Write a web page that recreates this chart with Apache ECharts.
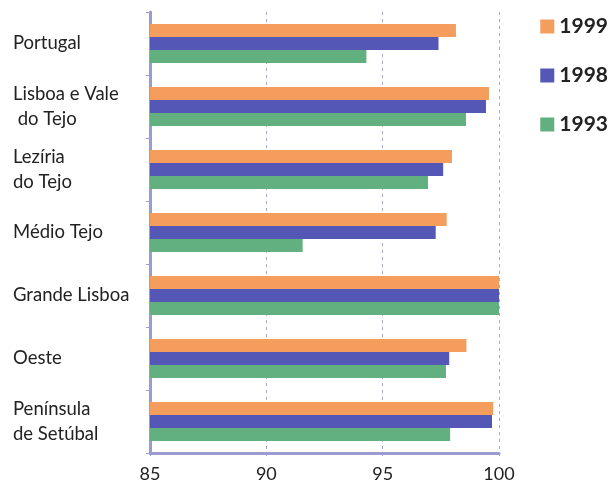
<!DOCTYPE html>
<html><head><meta charset="utf-8">
<script src="https://cdn.jsdelivr.net/npm/echarts@6/dist/echarts.min.js"></script>
<style>html,body{margin:0;padding:0;background:#fff}#c{width:615px;height:493px}</style>
</head><body><div id="c"></div>
<script>
const categories = ["Portugal", "Lisboa e Vale\n do Tejo", "Lezíria\ndo Tejo", "Médio Tejo", "Grande Lisboa", "Oeste", "Península\nde Setúbal"];
const seriesNames = ["1999", "1998", "1993"];
const v1999 = [98.15, 99.57, 97.98, 97.75, 100, 98.6, 99.75];
const v1998 = [97.4, 99.44, 97.6, 97.28, 100, 97.86, 99.7];
const v1993 = [94.3, 98.58, 96.95, 91.56, 100, 97.72, 97.9];
const xTicks = [85, 90, 95, 100];
const colors = ["#f59d5c", "#5557b6", "#62b07f"];

const chart = echarts.init(document.getElementById('c'));
const data = [v1999, v1998, v1993];
chart.setOption({
  animation: false,
  color: colors,
  textStyle: {fontFamily: "Lato"},
  legend: {
    orient: 'vertical', right: 2, top: 11,
    itemWidth: 14, itemHeight: 14, itemGap: 28,
    icon: 'rect',
    data: seriesNames,
    textStyle: {fontSize: 21, fontWeight: 'bold', color: '#222', fontFamily: 'Lato'}
  },
  grid: {left: 150, right: 116, top: 12, bottom: 40, containLabel: false},
  xAxis: {
    type: 'value', min: xTicks[0], max: xTicks[xTicks.length-1], interval: 5,
    axisLine: {show: true, lineStyle: {color: '#9b9bd0', width: 3}},
    axisTick: {show: true, length: 3, lineStyle: {color: '#9b9bd0'}},
    axisLabel: {fontSize: 18, color: '#222', margin: 12},
    splitLine: {show: true, lineStyle: {type: [3, 4], color: '#a8a8c0', width: 1}}
  },
  yAxis: {
    type: 'category', data: categories, inverse: true,
    axisLine: {show: true, lineStyle: {color: '#9b9bd0', width: 3}},
    axisTick: {show: true, length: 4, lineStyle: {color: '#9b9bd0'}},
    axisLabel: {fontSize: 18.5, color: '#222', align: 'left', margin: 137, lineHeight: 25}
  },
  series: seriesNames.map((n, i) => ({
    name: n, type: 'bar', data: data[i],
    barGap: '0%', barCategoryGap: '38%'
  }))
});
</script></body></html>
